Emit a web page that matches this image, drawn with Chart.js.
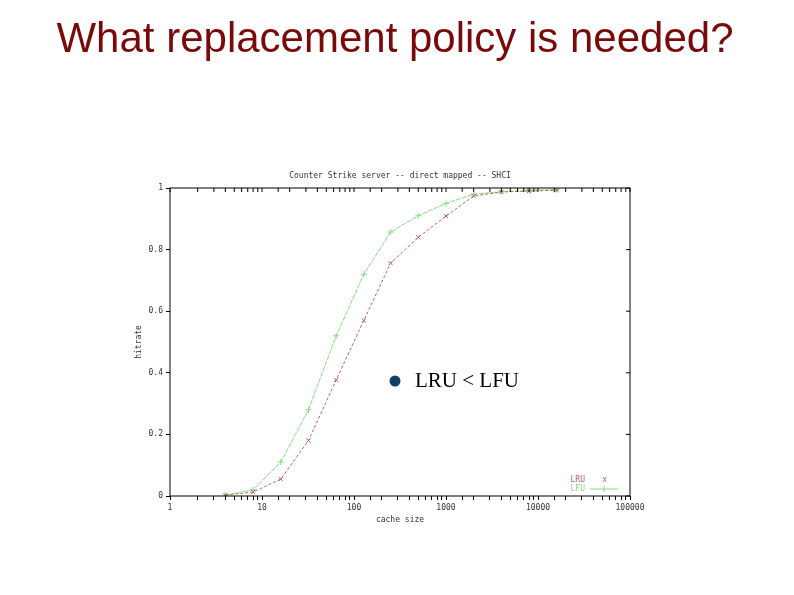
<!DOCTYPE html>
<html>
<head>
<meta charset="utf-8">
<script src="https://cdn.jsdelivr.net/npm/chart.js"></script>
<style>
  body { margin: 0; background: #fff; }
  #wrap { position: absolute; left: 0; top: 0; width: 794px; height: 595px; }
</style>
</head>
<body>
<div id="wrap"><canvas id="c" width="794" height="595"></canvas></div>
<script>
const cacheSizes = [4, 8, 16, 32, 64, 128, 250, 500, 1000, 2000, 4000, 8000, 16000];
const lruHits = [0.003, 0.013, 0.055, 0.18, 0.377, 0.57, 0.756, 0.84, 0.909, 0.974, 0.987, 0.99, 0.993];
const lfuHits = [0.003, 0.02, 0.11, 0.28, 0.52, 0.72, 0.857, 0.91, 0.95, 0.98, 0.988, 0.992, 0.995];
const xTickLabels = ['1', '10', '100', '1000', '10000', '100000'];
const yTickLabels = ['0', '0.2', '0.4', '0.6', '0.8', '1'];

const redColor = '#c06060';
const greenColor = '#80e080';
const tickFont = { family: 'DejaVu Sans Mono', size: 8 };

const toPoints = (ys) => cacheSizes.map((x, i) => ({ x: x, y: ys[i] }));

// slide decorations: page title, plot title, box, mirrored ticks, legend, bullet text
const decorations = {
    id: 'decorations',
    afterDraw(chart) {
        const ctx = chart.ctx;
        const a = chart.chartArea;
        const xs = chart.scales.x;
        const ys = chart.scales.y;
        ctx.save();
        ctx.fillStyle = '#7a0a0a';
        ctx.font = '42px "Liberation Sans", Arial';
        ctx.textAlign = 'center';
        ctx.textBaseline = 'middle';
        ctx.fillText('What replacement policy is needed?', 395, 40);

        ctx.fillStyle = '#333';
        ctx.font = '8px "DejaVu Sans Mono"';
        ctx.fillText('Counter Strike server -- direct mapped -- SHCI', (a.left + a.right) / 2, 176);

        ctx.strokeStyle = '#000';
        ctx.lineWidth = 1;
        ctx.strokeRect(a.left, a.top, a.right - a.left, a.bottom - a.top);

        // mirrored ticks on top and right
        ctx.beginPath();
        xs.ticks.forEach(t => {
            const px = xs.getPixelForValue(t.value);
            ctx.moveTo(px, a.top); ctx.lineTo(px, a.top + 4);
        });
        ys.ticks.forEach(t => {
            const py = ys.getPixelForValue(t.value);
            ctx.moveTo(a.right, py); ctx.lineTo(a.right - 4, py);
        });
        ctx.stroke();

        // legend
        ctx.textAlign = 'right';
        ctx.fillStyle = redColor;
        ctx.fillText('LRU', 585, 480);
        ctx.fillText('x', 607, 480);
        ctx.fillStyle = greenColor;
        ctx.fillText('LFU', 585, 489);
        ctx.strokeStyle = greenColor;
        ctx.beginPath();
        ctx.moveTo(590, 489); ctx.lineTo(618, 489);
        ctx.moveTo(604, 486); ctx.lineTo(604, 492);
        ctx.stroke();

        // bullet note
        ctx.fillStyle = '#123d66';
        ctx.beginPath();
        ctx.arc(395, 381, 5.5, 0, Math.PI * 2);
        ctx.fill();
        ctx.fillStyle = '#000';
        ctx.font = '21px "Liberation Serif", "Times New Roman"';
        ctx.textAlign = 'left';
        ctx.fillText('LRU < LFU', 415, 381);
        ctx.restore();
    }
};

new Chart(document.getElementById('c'), {
    type: 'line',
    data: {
        datasets: [{
            label: 'LRU',
            data: toPoints(lruHits),
            borderColor: redColor,
            backgroundColor: redColor,
            borderWidth: 1,
            borderDash: [3, 2],
            pointStyle: 'crossRot',
            pointRadius: 3,
            pointBorderWidth: 1,
            tension: 0,
        }, {
            label: 'LFU',
            data: toPoints(lfuHits),
            borderColor: greenColor,
            backgroundColor: greenColor,
            borderWidth: 1,
            borderDash: [5, 1],
            pointStyle: 'cross',
            pointRadius: 3,
            pointBorderWidth: 1,
            tension: 0,
        }]
    },
    options: {
        animation: false,
        responsive: false,
        layout: { padding: { left: 132, right: 164, top: 188, bottom: 69 } },
        plugins: {
            legend: { display: false },
            tooltip: { enabled: false },
        },
        scales: {
            x: {
                type: 'logarithmic',
                min: 1,
                max: 100000,
                border: { display: false },
                grid: { drawOnChartArea: false, tickLength: 4, color: '#000' },
                ticks: {
                    font: tickFont,
                    color: '#333',
                    autoSkip: false,
                    maxRotation: 0,
                    callback: function(value) {
                        const e = Math.log10(value);
                        return Math.abs(e - Math.round(e)) < 1e-9 ? xTickLabels[Math.round(e)] : '';
                    }
                },
                title: { display: true, text: 'cache size', font: tickFont, color: '#333', padding: 1 },
                afterFit: (s) => { s.height = 30; }
            },
            y: {
                min: 0,
                max: 1,
                border: { display: false },
                grid: { drawOnChartArea: false, tickLength: 4, color: '#000' },
                ticks: {
                    stepSize: 0.2,
                    font: tickFont,
                    color: '#333',
                    callback: (v) => yTickLabels[Math.round(v * 5)]
                },
                title: { display: true, text: 'hitrate', font: tickFont, color: '#333', padding: 2 },
                afterFit: (s) => { s.width = 38; }
            }
        }
    },
    plugins: [decorations]
});
</script>
</body>
</html>
